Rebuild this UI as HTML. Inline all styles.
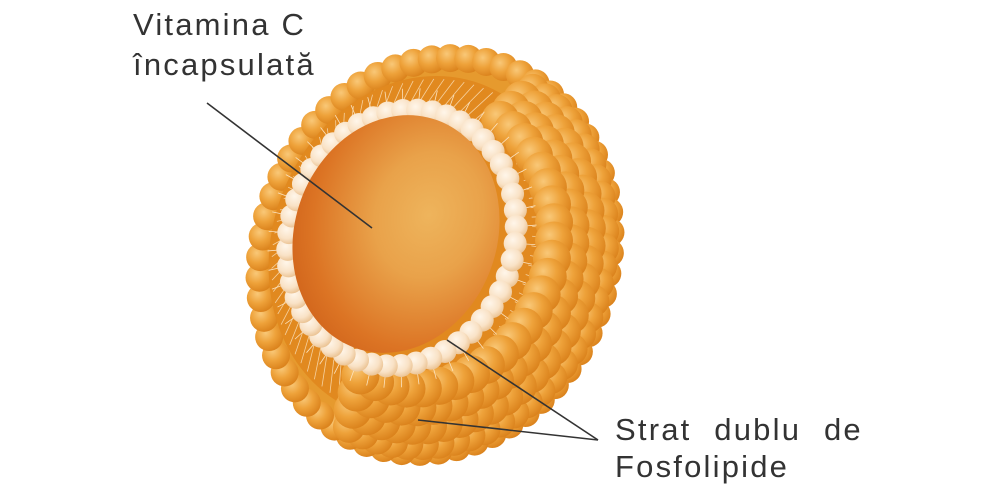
<!DOCTYPE html>
<html><head><meta charset="utf-8"><style>
html,body{margin:0;padding:0;background:#fff;}
body{width:1000px;height:500px;overflow:hidden;position:relative;font-family:"Liberation Sans",sans-serif;color:#333;}
.t{position:absolute;font-size:31px;line-height:37px;white-space:nowrap;letter-spacing:2.2px;}
</style></head><body>
<svg id="s" width="1000" height="500" style="position:absolute;left:0;top:0">
<defs>
<radialGradient id="bead" cx="0.38" cy="0.35" r="0.7">
<stop offset="0" stop-color="#f9c878"/><stop offset="0.5" stop-color="#eea23a"/><stop offset="1" stop-color="#d9801a"/></radialGradient>
<radialGradient id="cream" cx="0.4" cy="0.35" r="0.7">
<stop offset="0" stop-color="#fff6ea"/><stop offset="0.6" stop-color="#f9e2c6"/><stop offset="1" stop-color="#e9bf8d"/></radialGradient>
<radialGradient id="core" cx="0.62" cy="0.38" r="0.75">
<stop offset="0" stop-color="#eeb45c"/><stop offset="0.35" stop-color="#e9a24a"/><stop offset="0.75" stop-color="#dc7424"/><stop offset="1" stop-color="#cc5e18"/></radialGradient>
</defs>
<g id="g"></g>
<line x1="207" y1="103" x2="372" y2="228" stroke="#333" stroke-width="1.6"/>
<line x1="598" y1="440" x2="447" y2="340" stroke="#333" stroke-width="1.6"/>
<line x1="598" y1="440" x2="418" y2="420" stroke="#333" stroke-width="1.6"/>
</svg>
<div class="t" style="left:133px;top:6px">Vitamina C</div>
<div class="t" style="left:133px;top:46px">încapsulată</div>
<div class="t" style="left:615px;top:411px;word-spacing:12px">Strat dublu de</div>
<div class="t" style="left:615px;top:448px">Fosfolipide</div>
<script>
var g=document.getElementById('g'),NS='http://www.w3.org/2000/svg';
function el(n,a){var e=document.createElementNS(NS,n);for(var k in a)e.setAttribute(k,a[k]);g.appendChild(e);return e;}
var rot=20*Math.PI/180;
function pt(cx,cy,rx,ry,t){var x=rx*Math.cos(t),y=ry*Math.sin(t);return[cx+x*Math.cos(rot)-y*Math.sin(rot),cy+x*Math.sin(rot)+y*Math.cos(rot)];}
el('ellipse',{cx:435,cy:255,rx:172,ry:200,transform:'rotate(20 435 255)',fill:'#e69a2e'});
for(var i=0;i<60;i++){var t=i/60*2*Math.PI,p=pt(435,255,172,200,t);el('circle',{cx:p[0],cy:p[1],r:14,fill:'url(#bead)'});}
el('ellipse',{cx:420,cy:248,rx:148,ry:175,transform:'rotate(20 420 248)',fill:'#e1891f'});
for(var i=0;i<90;i++){var t=i/90*2*Math.PI,a=pt(420,248,145,172,t),b=pt(408,242,122,140,t);
el('line',{x1:a[0],y1:a[1],x2:b[0],y2:b[1],stroke:'#fbe3c0','stroke-width':0.8,opacity:0.8});}
// right shell crescent
var O=[435,255,168,196],R=[405,238,116,134];
var fs=[0.05,0.3,0.55,0.8];
fs.forEach(function(f,k){var cx=O[0]+(R[0]-O[0])*f,cy=O[1]+(R[1]-O[1])*f,rx=O[2]+(R[2]-O[2])*f,ry=O[3]+(R[3]-O[3])*f;
 var r=k==0?16:19,n=34-k*3;
 for(var i=0;i<n;i++){var t=-1.35+i/(n-1)*3.05;var p=pt(cx+18*f,cy+4*f,rx,ry,t);el('circle',{cx:p[0],cy:p[1],r:r,fill:'url(#bead)'});}});
// cream ring
el('ellipse',{cx:402,cy:238,rx:112,ry:130,transform:'rotate(20 402 238)',fill:'#e1891f'});
for(var i=0;i<48;i++){var t=i/48*2*Math.PI,a=pt(402,238,112,130,t),b=pt(402,238,132,152,t);
el('line',{x1:a[0],y1:a[1],x2:b[0],y2:b[1],stroke:'#fbe3c0','stroke-width':0.8});}
for(var i=0;i<48;i++){var t=i/48*2*Math.PI,p=pt(402,238,112,130,t);el('circle',{cx:p[0],cy:p[1],r:11.5,fill:'url(#cream)'});}
el('ellipse',{cx:396,cy:234,rx:101,ry:121,transform:'rotate(20 396 234)',fill:'url(#core)'});
</script>
</body></html>
